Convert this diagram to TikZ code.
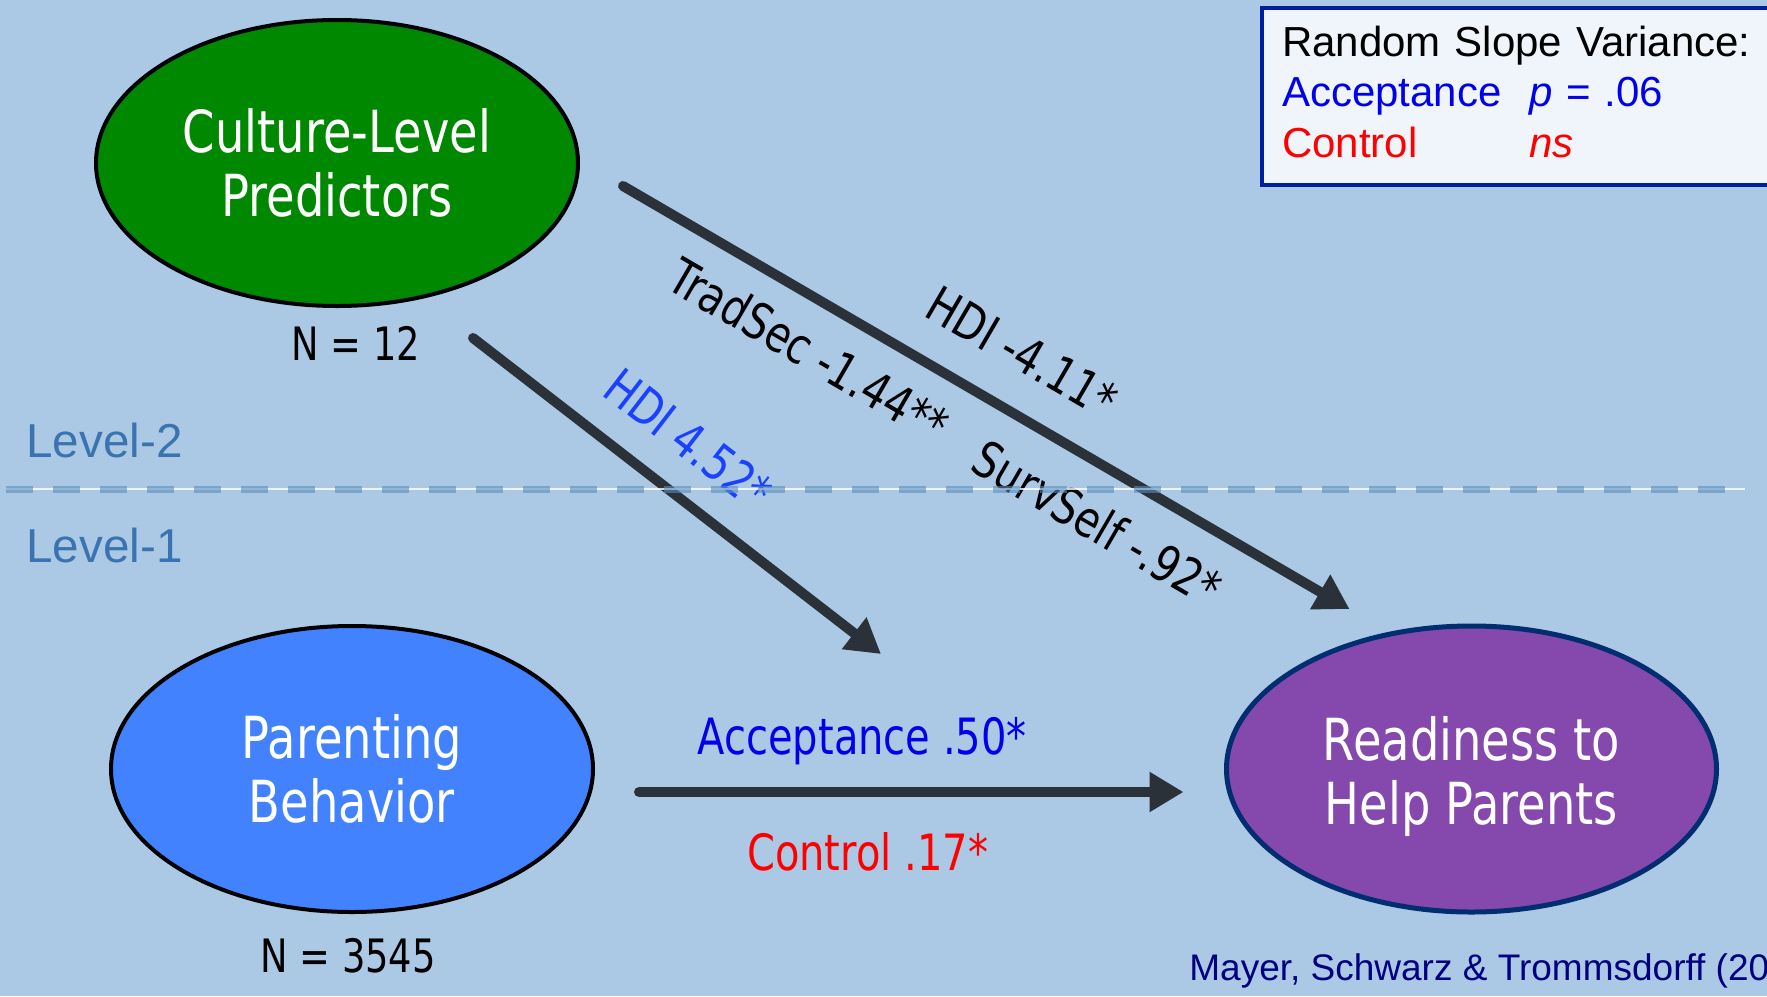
\documentclass[tikz,border=0pt]{standalone}
\usepackage{fontspec}
\setmainfont{Liberation Sans}
\newfontfamily\tahoma[FakeStretch=0.8]{DejaVu Sans}
\usetikzlibrary{shapes.geometric, arrows.meta, calc, positioning}

\definecolor{slide}{RGB}{171,200,228}
\definecolor{culturegreen}{RGB}{0,136,0}
\definecolor{parentblue}{RGB}{66,130,255}
\definecolor{readypurple}{RGB}{133,72,173}
\definecolor{readyborder}{RGB}{0,46,112}
\definecolor{arrowgrey}{RGB}{43,49,56}
\definecolor{levelblue}{RGB}{58,116,176}
\definecolor{dashblue}{RGB}{89,142,190}
\definecolor{accblue}{RGB}{0,0,235}
\definecolor{hdiblue}{RGB}{25,65,255}
\definecolor{ctlred}{RGB}{255,0,0}
\definecolor{legendfill}{RGB}{239,245,250}
\definecolor{legendborder}{RGB}{0,30,160}
\definecolor{citenavy}{RGB}{0,0,128}

\newcommand{\lowered}[1]{\raisebox{-3.5pt}[\height][\depth]{#1}}

\tikzstyle{construct} = [ellipse, minimum width=241pt, minimum height=143pt, inner sep=0pt, align=center, text=white, draw=black, line width=2pt, font=\tahoma\fontsize{29}{32}\selectfont]
\tikzstyle{sample} = [inner sep=0pt, font=\tahoma\fontsize{23}{27}\selectfont]
\tikzstyle{coef} = [inner sep=0pt, font=\tahoma\fontsize{25}{30}\selectfont]
\tikzstyle{level} = [anchor=west, inner sep=0pt, text=levelblue, font=\fontsize{23.8}{28}\selectfont]
\tikzstyle{legendbox} = [rectangle, anchor=north west, minimum width=280pt, minimum height=88.5pt, inner xsep=10pt, text width=260pt, align=left, draw=legendborder, line width=2pt, fill=legendfill, font=\fontsize{21}{25.25}\selectfont]
\tikzstyle{arrow} = [line width=5pt, line cap=round, draw=arrowgrey, -{Triangle[length=17pt,width=19pt]}]
\tikzstyle{divider} = [white, opacity=.8, line width=.7pt]
\tikzstyle{dividerdash} = [dashblue, line width=3.5pt, dash pattern=on 13.5pt off 10pt, opacity=.6]

\begin{document}
\begin{tikzpicture}[x=0.5pt, y=-0.5pt]
\useasboundingbox (0,0) rectangle (1767,996);
\fill [slide] (0,0) rectangle (1767,996);

    \node (culture) [construct, fill=culturegreen] at (337,163) {Culture-Level\\Predictors};
    \node (n_culture) [sample, below=9pt of culture, xshift=9.5pt] {N = 12};

    \node (parenting) [construct, fill=parentblue, below=158pt of culture, xshift=7.5pt] {Parenting\\Behavior};
    \node (n_parenting) [sample, below=12pt of parenting, xshift=-2pt] {N = 3545};

    \node (ready) [construct, fill=readypurple, draw=readyborder, line width=2.5pt, minimum width=245pt, right=314.5pt of parenting] {\lowered{Readiness to}\\\lowered{Help Parents}};

    \node (lvl2) [level] at (26,440) {Level-2};
    \node (lvl1) [level] at (26,545) {Level-1};

    \node (legend) [legendbox] at (1260,6) {%
        \begin{tabular}{@{}p{123.5pt}@{}l@{}}
        \multicolumn{2}{@{}l@{}}{Random Slope Variance:}\\
        \textcolor{accblue}{Acceptance} & \textcolor{accblue}{\textit{p} = .06}\\
        \textcolor{ctlred}{Control} & \textcolor{ctlred}{\textit{ns}}
        \end{tabular}};

    \node (cite) [anchor=west, inner sep=0pt, text=citenavy, font=\fontsize{18.5}{22}\selectfont] at (1189,971) {Mayer, Schwarz \& Trommsdorff (20};

\coordinate (culture_out) at ($(culture)+(286,23)$);
\coordinate (ready_in) at ($(ready)+(-122,-160)$);
\coordinate (culture_low) at ($(culture)+(136,175)$);
\coordinate (parenting_mod) at ($(parenting)+(529,-115)$);
\coordinate (parenting_out) at ($(parenting)+(287,23)$);
\coordinate (ready_left) at ($(ready)+(-288,23)$);

\draw [arrow] (culture_out) -- (ready_in)
    node [coef, pos=.51, sloped, above=17pt] {HDI -4.11*}
    node [coef, pos=.29, sloped, below=12pt] {TradSec -1.44**}
    node [coef, pos=.69, sloped, below=14pt] {SurvSelf -.92*};

\draw [arrow] (culture_low) -- (parenting_mod)
    node [coef, pos=.45, sloped, above=14pt, text=hdiblue] {HDI 4.52*};

\draw [arrow] (parenting_out) -- (ready_left)
    node [coef, pos=.41, above=11pt, text=accblue] {Acceptance .50*}
    node [coef, pos=.42, below=17.5pt, text=ctlred] {Control .17*};

%\draw [arrow] (parenting) -- (ready);

\coordinate (split_l) at (6,489);
\coordinate (split_r) at (1745,489);
\draw [divider] (split_l) -- (split_r);
\draw [dividerdash] (split_l) -- (split_r);

\end{tikzpicture}
\end{document}
